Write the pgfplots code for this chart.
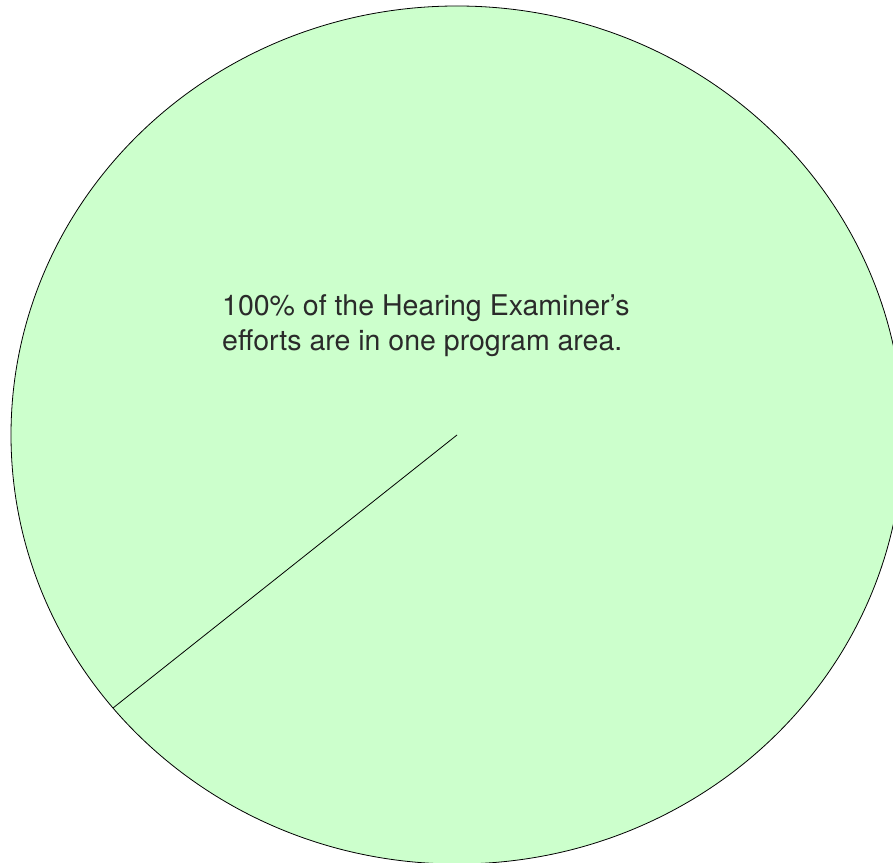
\documentclass[border=0pt]{standalone}
\usepackage{pgfplots}
\pgfplotsset{compat=1.18}
\usepackage{fontspec}
\setmainfont{TeX Gyre Heros}
\definecolor{slice}{HTML}{CCFFCC}
\definecolor{txt}{HTML}{2A2A2A}
% one slice: value 100 (percent), starting at 219.5 degrees
\def\sliceValue{100}
\def\sliceStart{219.5}
\begin{document}
\begin{tikzpicture}
\begin{axis}[
  width=893pt, height=862pt, scale only axis, hide axis,
  xmin=-457, xmax=436, ymin=-427, ymax=435,
  clip=true,
]
\fill[slice, draw=black, line width=0.8pt] (axis cs:0,0) ellipse [x radius=446pt, y radius=429pt];
\addplot[black, line width=0.8pt, mark=none] coordinates {(0,0) (-344,-273)};
\node[anchor=base west, font=\fontsize{28.5}{36}\selectfont, text=txt, inner sep=0pt] at (axis cs:-235,119) {100\% of the Hearing Examiner’s};
\node[anchor=base west, font=\fontsize{28.5}{36}\selectfont, text=txt, inner sep=0pt] at (axis cs:-235,84) {efforts are in one program area.};
\end{axis}
\pgfresetboundingbox
\path[use as bounding box] (current axis.south west) rectangle (current axis.north east);
\end{tikzpicture}
\end{document}
